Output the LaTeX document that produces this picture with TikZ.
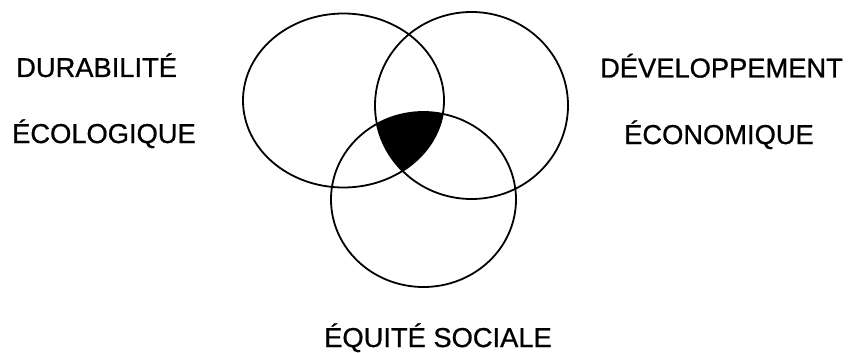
\documentclass[tikz,border=0pt]{standalone}
\usepackage{fontspec}
\setmainfont{Liberation Sans}
\newfontfamily\lblfont{Liberation Sans}[FakeBold=0.8]
\begin{document}
\begin{tikzpicture}[x=1pt,y=-1pt,
  lbl/.style={inner sep=0pt,font=\lblfont\fontsize{27.3}{30}\selectfont},
  ring/.style={line width=1.8pt}]
\useasboundingbox (0,0) rectangle (848,353);
\begin{scope}
  \clip (343.5,100.5) ellipse [x radius=100.5, y radius=87];
  \clip (471.5,105.5) ellipse [x radius=96.5, y radius=93.5];
  \fill (423.5,199.5) ellipse [x radius=92.5, y radius=87.5];
\end{scope}
\draw[ring] (343.5,100.5) ellipse [x radius=100.5, y radius=87];
\draw[ring] (471.5,105.5) ellipse [x radius=96.5, y radius=93.5];
\draw[ring] (423.5,199.5) ellipse [x radius=92.5, y radius=87.5];
\node[lbl,anchor=base west] (dur) at (16,77) {DURABILITÉ};
\node[lbl,anchor=base west] (eco) at (12,143) {ÉCOLOGIQUE};
\node[lbl,anchor=base] (dev) at (721.5,77.5) {DÉVELOPPEMENT};
\node[lbl,anchor=base] (econ) at (719,144) {ÉCONOMIQUE};
\node[lbl,anchor=base] (soc) at (438,347) {ÉQUITÉ SOCIALE};
\end{tikzpicture}
\end{document}
